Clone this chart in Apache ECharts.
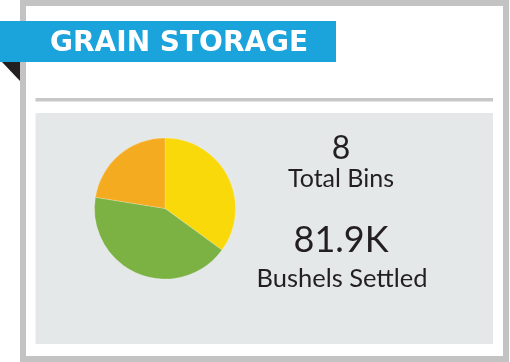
<!DOCTYPE html>
<html>
<head>
<meta charset="utf-8">
<script src="https://cdn.jsdelivr.net/npm/echarts@6/dist/echarts.min.js"></script>
<style>
html,body{margin:0;padding:0;background:#fff;}
#chart{width:510px;height:362px;}
</style>
</head>
<body>
<div id="chart"></div>
<script>
// Data
var titleText = 'GRAIN STORAGE';
var sliceNames = ['Corn', 'Soybeans', 'Wheat'];
var sliceValues = [28.7, 34.8, 18.4];   // thousand bushels
var sliceColors = ['#fad90b', '#7cb244', '#f5ab1f'];
var totalBins = 8;
var binsLabel = 'Total Bins';
var bushelsLabel = 'Bushels Settled';

var total = sliceValues.reduce(function (a, b) { return a + b; }, 0);
var bushelsText = total.toFixed(1) + 'K';

var chart = echarts.init(document.getElementById('chart'), null, {renderer: 'canvas'});
var dark = '#231f20';
chart.setOption({
  animation: false,
  backgroundColor: '#ffffff',
  graphic: [
    // outer frame
    {type: 'rect', shape: {x: 23, y: 3, width: 483, height: 356}, style: {fill: '#ffffff', stroke: '#c3c3c3', lineWidth: 6}, z: 0},
    // divider line
    {type: 'rect', shape: {x: 35.5, y: 98, width: 457.5, height: 3.5}, style: {fill: '#c8c8c8'}, z: 1},
    // panel
    {type: 'rect', shape: {x: 35.5, y: 113, width: 457.5, height: 231}, style: {fill: '#e5e8e9'}, z: 1},
    // banner fold
    {type: 'polygon', shape: {points: [[2, 62], [20, 62], [20, 81]]}, style: {fill: dark}, z: 2},
    // banner
    {type: 'rect', shape: {x: 0, y: 21, width: 336, height: 41}, style: {fill: '#1ba3dc'}, z: 2},
    {type: 'text', x: 50, y: 43.5, style: {text: titleText, fill: '#ffffff', font: 'bold 28px "DejaVu Sans"', textAlign: 'left', textVerticalAlign: 'middle'}, z: 3},
    // KPI texts
    {type: 'text', x: 341, y: 148.5, style: {text: String(totalBins), fill: dark, font: '32px Lato', textAlign: 'center', textVerticalAlign: 'middle'}, z: 3},
    {type: 'text', x: 341, y: 179, style: {text: binsLabel, fill: dark, font: '25px Lato', textAlign: 'center', textVerticalAlign: 'middle'}, z: 3},
    {type: 'text', x: 341, y: 240, style: {text: bushelsText, fill: dark, font: '36px Lato', textAlign: 'center', textVerticalAlign: 'middle'}, z: 3},
    {type: 'text', x: 342, y: 279, style: {text: bushelsLabel, fill: dark, font: '25.5px Lato', textAlign: 'center', textVerticalAlign: 'middle'}, z: 3}
  ],
  series: [{
    type: 'pie',
    center: [165, 208.5],
    radius: 70.5,
    startAngle: 90,
    clockwise: true,
    label: {show: false},
    labelLine: {show: false},
    emphasis: {disabled: true},
    itemStyle: {borderWidth: 0.6, borderColor: 'rgba(255,255,255,0.35)'},
    z: 5,
    data: sliceValues.map(function (v, i) {
      return {name: sliceNames[i], value: v, itemStyle: {color: sliceColors[i]}};
    })
  }]
});
</script>
</body>
</html>
